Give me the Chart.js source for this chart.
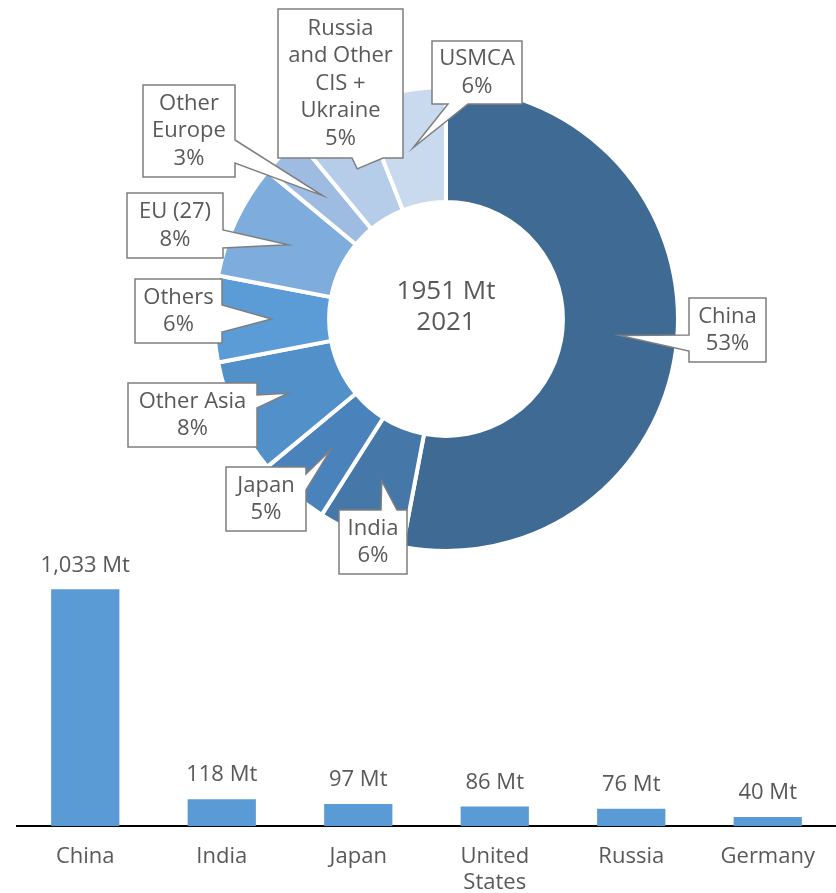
<!DOCTYPE html>
<html>
<head>
<meta charset="utf-8">
<script src="https://cdn.jsdelivr.net/npm/chart.js@4.4.0/dist/chart.umd.min.js"></script>
<style>
  body { margin: 0; background: #fff; width: 836px; height: 893px; overflow: hidden; position: relative; }
  #pie-wrap { position: absolute; left: 0; top: 0; width: 836px; height: 600px; }
  #bar-wrap { position: absolute; left: 0; top: 542px; width: 836px; height: 371px; }
</style>
</head>
<body>
<div id="pie-wrap"><canvas id="pie-chart"></canvas></div>
<div id="bar-wrap"><canvas id="bar-chart"></canvas></div>
<script>
// share of world crude steel production by region (%)
const region_names = ['China', 'India', 'Japan', 'Other Asia', 'Others', 'EU (27)', 'Other Europe', 'Russia and Other CIS + Ukraine', 'USMCA'];
const region_lines = [['China'], ['India'], ['Japan'], ['Other Asia'], ['Others'], ['EU (27)'], ['Other', 'Europe'], ['Russia', 'and Other', 'CIS +', 'Ukraine'], ['USMCA']];
const region_share = [53, 6, 5, 8, 6, 8, 3, 5, 6];
const total_label = '1951 Mt';
const year_label = '2021';

// top producers, million tonnes
const countries = [['China'], ['India'], ['Japan'], ['United', 'States'], ['Russia'], ['Germany']];
const country_mt = [1033, 118, 97, 86, 76, 40];

const region_colors = ['#3e6a94', '#4577a9', '#4a83bb', '#5290ca', '#5b9bd6', '#7eaddd', '#9ebce2', '#b6cdea', '#c9daee'];
const FONT = '"Open Sans", "DejaVu Sans", sans-serif';
const TEXT = '#595959';

// callout boxes: box [x1, y1, x2, y2], side the pointer leaves from, pointer base along that side
const callouts = [
    { box: [689, 298, 766, 362], side: 'left',   base: [335, 351] },
    { box: [339, 510, 407, 574], side: 'top',    base: [381, 397] },
    { box: [226, 467, 306, 531], side: 'right',  base: [474, 490] },
    { box: [128, 383, 257, 447], side: 'right',  base: [395, 408] },
    { box: [135, 279, 222, 343], side: 'right',  base: [305, 332] },
    { box: [127, 193, 223, 258], side: 'right',  base: [230, 248] },
    { box: [143, 85, 235, 177],  side: 'right',  base: [140, 163] },
    { box: [278, 9, 403, 158],   side: 'bottom', base: [352, 383] },
    { box: [432, 41, 522, 104],  side: 'bottom', base: [448, 468] }
];

const calloutPlugin = {
    id: 'callouts',
    afterDatasetsDraw(chart) {
        const ctx = chart.ctx;
        const arcs = chart.getDatasetMeta(0).data;
        ctx.save();
        ctx.font = '22px ' + FONT;
        ctx.textAlign = 'center';
        ctx.textBaseline = 'middle';
        arcs.forEach((arc, i) => {
            const tip = arc.getCenterPoint();
            const c = callouts[i];
            const [x1, y1, x2, y2] = c.box;
            const [a, b] = c.base;
            const t = [tip.x, tip.y];
            const pts = [[x1, y1]];
            if (c.side === 'top') pts.push([a, y1], t, [b, y1]);
            pts.push([x2, y1]);
            if (c.side === 'right') pts.push([x2, a], t, [x2, b]);
            pts.push([x2, y2]);
            if (c.side === 'bottom') pts.push([b, y2], t, [a, y2]);
            pts.push([x1, y2]);
            if (c.side === 'left') pts.push([x1, b], t, [x1, a]);

            ctx.beginPath();
            pts.forEach((p, k) => k ? ctx.lineTo(p[0], p[1]) : ctx.moveTo(p[0], p[1]));
            ctx.closePath();
            ctx.fillStyle = '#fff';
            ctx.fill();
            ctx.lineWidth = 1.5;
            ctx.strokeStyle = '#7f7f7f';
            ctx.stroke();

            const lines = [...region_lines[i], region_share[i] + '%'];
            const cx = (x1 + x2) / 2, cy = (y1 + y2) / 2;
            ctx.fillStyle = TEXT;
            lines.forEach((s, k) => ctx.fillText(s, cx, cy + (k - (lines.length - 1) / 2) * 27.5));
        });

        // total in the hole
        const centre = arcs[0];
        ctx.font = '26px ' + FONT;
        ctx.fillText(total_label, centre.x, centre.y - 27);
        ctx.fillText(year_label, centre.x, centre.y + 4);
        ctx.restore();
    }
};

const barLabels = {
    id: 'barLabels',
    afterDatasetsDraw(chart) {
        const ctx = chart.ctx;
        ctx.save();
        ctx.font = '22px ' + FONT;
        ctx.fillStyle = TEXT;
        ctx.textAlign = 'center';
        ctx.textBaseline = 'middle';
        chart.getDatasetMeta(0).data.forEach((bar, i) => {
            ctx.fillText(country_mt[i].toLocaleString('en-US') + ' Mt', bar.x, bar.y - 24);
        });
        ctx.restore();
    }
};

function draw() {
    new Chart(document.getElementById('pie-chart'), {
        type: 'doughnut',
        data: {
            labels: region_names,
            datasets: [{
                data: region_share,
                backgroundColor: region_colors,
                borderColor: '#fff',
                borderWidth: 4
            }]
        },
        options: {
            responsive: true,
            maintainAspectRatio: false,
            animation: false,
            events: [],
            cutout: '50.4%',
            layout: { padding: { left: 212, right: 156, top: 85, bottom: 47 } },
            plugins: { legend: { display: false }, tooltip: { enabled: false } }
        },
        plugins: [calloutPlugin]
    });

    new Chart(document.getElementById('bar-chart'), {
        type: 'bar',
        data: {
            labels: countries,
            datasets: [{
                data: country_mt,
                backgroundColor: '#5b9bd5',
                barPercentage: 0.5,
                categoryPercentage: 1
            }]
        },
        options: {
            responsive: true,
            maintainAspectRatio: false,
            animation: false,
            events: [],
            layout: { padding: { left: 17, right: 0, top: 32, bottom: 0 } },
            plugins: { legend: { display: false }, tooltip: { enabled: false } },
            scales: {
                x: {
                    grid: { display: false, drawTicks: false },
                    border: { display: true, color: '#000', width: 2 },
                    ticks: { font: { family: FONT, size: 22 }, color: TEXT, padding: 17, maxRotation: 0, autoSkip: false }
                },
                y: { display: false, min: 0, max: 1100 }
            }
        },
        plugins: [barLabels]
    });
}

document.fonts.load('22px "Open Sans"').then(draw, draw);
</script>
</body>
</html>
